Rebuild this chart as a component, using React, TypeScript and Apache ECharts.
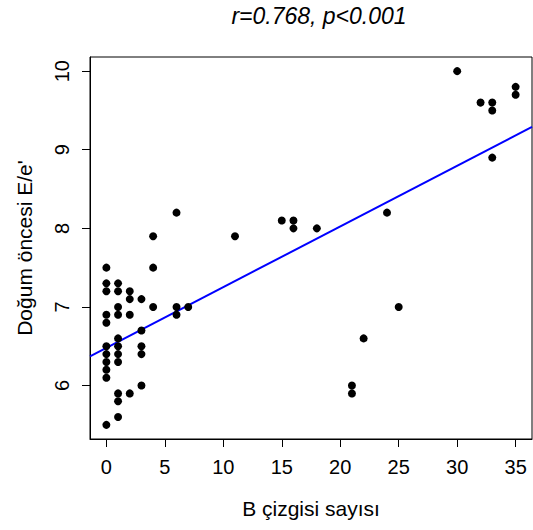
import React, { useEffect, useRef } from "react";
import * as echarts from "echarts";

// Data
const bLines: number[] = [
  0, 0, 0, 0, 0, 0, 0, 0, 0, 0, 0,
  1, 1, 1, 1, 1, 1, 1, 1, 1, 1, 1,
  2, 2, 2, 2,
  3, 3, 3, 3, 3,
  4, 4, 4,
  6, 6, 6,
  7, 11, 15, 16, 16, 18, 21, 21, 22, 24, 25, 30, 32, 33, 33, 33, 35, 35,
];
const eePrime: number[] = [
  7.5, 7.3, 7.2, 6.9, 6.8, 6.5, 6.4, 6.3, 6.2, 6.1, 5.5,
  7.3, 7.2, 7.0, 6.9, 6.6, 6.5, 6.4, 6.3, 5.9, 5.8, 5.6,
  7.2, 7.1, 6.9, 5.9,
  7.1, 6.7, 6.5, 6.4, 6.0,
  7.9, 7.5, 7.0,
  8.2, 7.0, 6.9,
  7.0, 7.9, 8.1, 8.1, 8.0, 8.0, 6.0, 5.9, 6.6, 8.2, 7.0, 10.0, 9.6, 9.6, 9.5, 8.9, 9.8, 9.7,
];
const xTicks: number[] = [0, 5, 10, 15, 20, 25, 30, 35];
const yTicks: number[] = [6, 7, 8, 9, 10];
const fitIntercept = 6.48;
const fitSlope = 0.0772;
const xRange: number[] = [-1.4, 36.4];
const yRange: number[] = [5.32, 10.18];

const titleText = "r=0.768, p<0.001";
const xName = "B çizgisi sayısı";
const yName = "Doğum öncesi E/e'";

const FONT = "'Liberation Sans', Arial, Helvetica, sans-serif";

export default function App() {
  const ref = useRef<HTMLDivElement>(null);
  useEffect(() => {
    document.body.style.margin = "0";
    if (!ref.current) return;
    const chart = echarts.init(ref.current, undefined, { renderer: "svg" });
    const points = bLines.map((x, i) => [x, eePrime[i]]);
    const fitLine = xRange.map((x) => [x, fitIntercept + fitSlope * x]);
    chart.setOption({
      animation: false,
      backgroundColor: "#ffffff",
      title: {
        text: titleText,
        left: 319,
        top: 4,
        padding: 0,
        textAlign: "center",
        textStyle: {
          fontFamily: FONT,
          fontStyle: "italic",
          fontWeight: "normal",
          fontSize: 23,
          color: "#000",
        },
      },
      grid: {
        left: 90,
        right: 1,
        top: 57,
        bottom: 91,
        show: true,
        borderColor: "#000",
        borderWidth: 1,
        backgroundColor: "transparent",
      },
      xAxis: {
        type: "value",
        min: xRange[0],
        max: xRange[1],
        position: "bottom",
        name: xName,
        nameLocation: "middle",
        nameGap: 59,
        nameTextStyle: { fontFamily: FONT, fontSize: 21, color: "#000" },
        axisLine: { show: true, lineStyle: { color: "#000", width: 1 } },
        splitLine: { show: false },
        axisTick: {
          show: true,
          inside: false,
          length: 8,
          customValues: xTicks,
          lineStyle: { color: "#000", width: 1 },
        },
        axisLabel: {
          customValues: xTicks,
          margin: 18,
          fontFamily: FONT,
          fontSize: 20,
          color: "#000",
        },
      },
      yAxis: {
        type: "value",
        min: yRange[0],
        max: yRange[1],
        position: "left",
        name: yName,
        nameLocation: "middle",
        nameGap: 55,
        nameRotate: 90,
        nameTextStyle: { fontFamily: FONT, fontSize: 21, color: "#000" },
        axisLine: { show: true, onZero: false, lineStyle: { color: "#000", width: 1 } },
        splitLine: { show: false },
        axisTick: {
          show: true,
          inside: false,
          length: 8,
          customValues: yTicks,
          lineStyle: { color: "#000", width: 1 },
        },
        axisLabel: {
          customValues: yTicks,
          rotate: 90,
          margin: 18,
          fontFamily: FONT,
          fontSize: 20,
          color: "#000",
        },
      },
      series: [
        {
          type: "scatter",
          data: points,
          symbol: "circle",
          symbolSize: 8,
          itemStyle: { color: "#000", opacity: 1 },
          z: 3,
        },
        {
          type: "line",
          data: fitLine,
          showSymbol: false,
          symbol: "none",
          lineStyle: { color: "#0000ff", width: 2 },
          z: 2,
        },
      ],
    });
    return () => chart.dispose();
  }, []);
  return <div ref={ref} style={{ width: 533, height: 530 }} />;
}
